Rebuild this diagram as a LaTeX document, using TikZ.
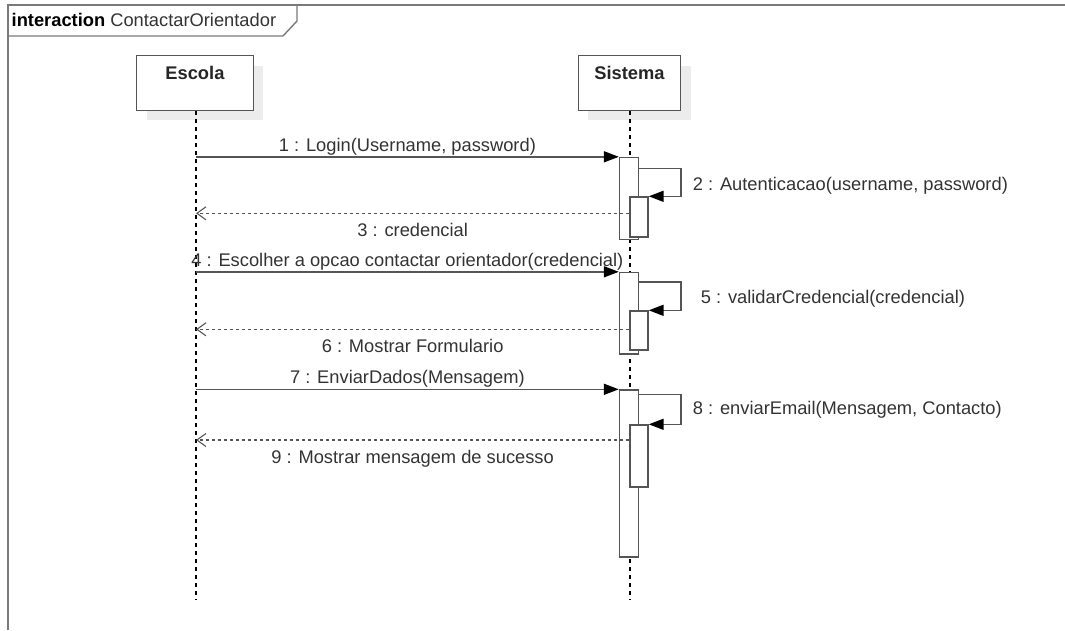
\documentclass[tikz,border=0pt]{standalone}
\usepackage{fontspec}
\setmainfont{Liberation Sans}
\usetikzlibrary{arrows.meta,calc,shadows}
\definecolor{txt}{HTML}{333333}
\definecolor{edge}{HTML}{555555}
\definecolor{frameline}{HTML}{7A7A7A}
\definecolor{shade}{HTML}{ECECEC}
\begin{document}
\begin{tikzpicture}[x=1pt,y=-1pt,
  every node/.style={font=\fontsize{18.3}{22}\selectfont, text=txt},
  framestyle/.style={draw=frameline, line width=1.4pt},
  head/.style={draw=edge, line width=1.4pt, fill=white, inner sep=0pt,
    minimum height=54.5pt,
    drop shadow={shadow xshift=10pt, shadow yshift=-10pt, fill=shade, opacity=1}},
  bar/.style={draw=edge, line width=1.4pt, fill=white, inner sep=0pt},
  lifeline/.style={draw=black, line width=1.2pt, dash pattern=on 4pt off 4pt},
  call/.style={draw=edge, line width=1.6pt,
    -{Triangle[length=15pt, width=11pt, color=black]}},
  reply/.style={draw=edge, line width=1.3pt, dash pattern=on 3pt off 3pt,
    -{Straight Barb[length=9pt, width=13pt, line width=1.1pt]}},
  above label/.style={midway, anchor=base, yshift=5.6pt},
  below label/.style={midway, anchor=base, yshift=-23.5pt},
]
\useasboundingbox (0,0) rectangle (1065,630);

% interaction frame and its title tab
\draw[framestyle] (8,630) -- (8,5) -- (1065,5);
\draw[framestyle] (8,36) -- (283,36) -- (297,21) -- (297,5);
\node[anchor=base west, inner sep=0pt, text=black] (title) at (11.5,26.7)
  {\textbf{interaction} {\color{txt}ContactarOrientador}};

% lifeline heads
\node[head, minimum width=116.6pt,
  label={[name=escolaName, anchor=base, yshift=-24.5pt, text=black!85]north:\textbf{Escola}}]
  (escola) at (195,83) {};
\node[head, minimum width=102.4pt,
  label={[name=sistemaName, anchor=base, yshift=-24.5pt, text=black!85]north:\textbf{Sistema}}]
  (sistema) at (629.5,83) {};

\coordinate (escEnd) at (196,600);
\coordinate (sisEnd) at (630,600);
\draw[lifeline] (escola.south -| escEnd) -- (escEnd);
\draw[lifeline] (sistema.south -| sisEnd) -- (sisEnd);

% activations
\node[bar, minimum width=19pt, minimum height=82pt]  (act1) at (629,198.5) {};
\node[bar, minimum width=18pt, minimum height=40pt]  (sub1) at (639,217)   {};
\node[bar, minimum width=19pt, minimum height=81.5pt] (act2) at (629,313.25) {};
\node[bar, minimum width=18pt, minimum height=39pt]  (sub2) at (639,330.5) {};
\node[bar, minimum width=19pt, minimum height=167pt] (act3) at (629,473.5) {};
\node[bar, minimum width=18pt, minimum height=62pt]  (sub3) at (639,456)   {};

% 1-3
\draw[call] (escEnd |- act1.north west) -- (act1.north west)
  node[above label] {1 : Login(Username, password)};
\draw[call] ([yshift=-11.5pt]act1.north east) -- ++(41.5,0) |- (sub1.north east);
\node[anchor=base west, inner sep=0pt] (lbl2) at ($(sub1.north east)+(44,-6)$)
  {2 : Autenticacao(username, password)};
\coordinate (ret1) at ($(sub1.north west)+(0,17)$);
\draw[reply] (ret1) -- (escEnd |- ret1)
  node[below label] {3 : credencial};

% 4-6
\draw[call] (escEnd |- act2.north west) -- (act2.north west)
  node[above label] {4 : Escolher a opcao contactar orientador(credencial)};
\draw[call] ([yshift=-10pt]act2.north east) -- ++(41.5,0) |- (sub2.north east);
\node[anchor=base west, inner sep=0pt] (lbl5) at ($(sub2.north east)+(52,-7)$)
  {5 : validarCredencial(credencial)};
\coordinate (ret2) at ($(sub2.north west)+(0,19)$);
\draw[reply] (ret2) -- (escEnd |- ret2)
  node[below label] {6 : Mostrar Formulario};

% 7-9
\draw[call] (escEnd |- act3.north west) -- (act3.north west)
  node[above label] {7 : EnviarDados(Mensagem)};
\draw[call] ([yshift=-5pt]act3.north east) -- ++(41.5,0) |- (sub3.north east);
\node[anchor=base west, inner sep=0pt] (lbl8) at ($(sub3.north east)+(44,-10)$)
  {8 : enviarEmail(Mensagem, Contacto)};
\coordinate (ret3) at ($(sub3.north west)+(0,15.7)$);
\draw[reply] (ret3) -- (escEnd |- ret3)
  node[below label] {9 : Mostrar mensagem de sucesso};
\end{tikzpicture}
\end{document}
